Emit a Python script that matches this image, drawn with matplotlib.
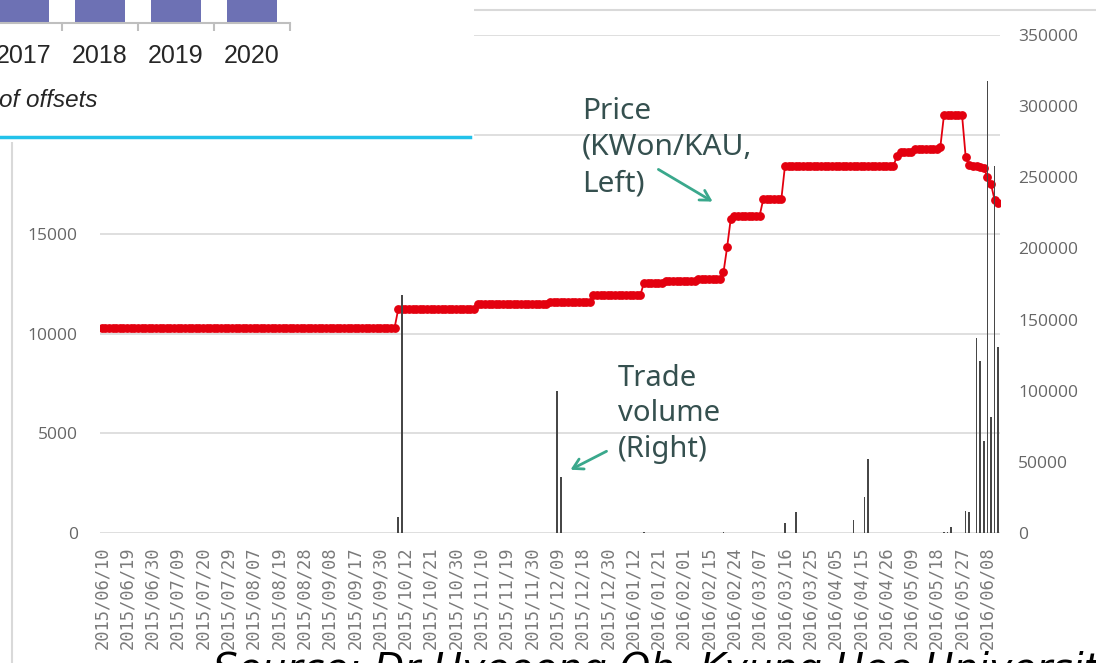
import numpy as np
import matplotlib
matplotlib.use("Agg")
import matplotlib.pyplot as plt
from matplotlib.patches import Rectangle, FancyArrowPatch
from matplotlib.lines import Line2D

W, H = 1096, 663

# trading-day axis: one label every 7 trading days
date_labels = ["2015/06/10", "2015/06/19", "2015/06/30", "2015/07/09", "2015/07/20",
               "2015/07/29", "2015/08/07", "2015/08/19", "2015/08/28", "2015/09/08",
               "2015/09/17", "2015/09/30", "2015/10/12", "2015/10/21", "2015/10/30",
               "2015/11/10", "2015/11/19", "2015/11/30", "2015/12/09", "2015/12/18",
               "2015/12/30", "2016/01/12", "2016/01/21", "2016/02/01", "2016/02/15",
               "2016/02/24", "2016/03/07", "2016/03/16", "2016/03/25", "2016/04/05",
               "2016/04/15", "2016/04/26", "2016/05/09", "2016/05/18", "2016/05/27",
               "2016/06/08"]
label_step = 7
n_days = 249

# price (left axis), as runs of unchanged closing price
price_levels = [10300, 11230, 11500, 11600, 11950, 12565, 12665, 12750, 13090, 14340,
                15760, 15930, 16750, 18420, 18925, 19140, 19260, 19390, 20980, 18890,
                18450, 18420, 18400, 18350, 18300, 17890, 17520, 16720, 16550]
price_run_days = [82, 22, 20, 12, 14, 6, 9, 7, 1, 1,
                  1, 8, 6, 31, 1, 4, 7, 1, 6, 1,
                  1, 1, 1, 1, 1, 1, 1, 1, 1]

# trade volume (right axis), only days with trades
volume_day = [82, 83, 126, 127, 150, 172, 189, 192, 208, 211, 212, 233, 234, 235,
              239, 240, 242, 243, 244, 245, 246, 247, 248]
volume = [11450, 167000, 99800, 39600, 400, 600, 7000, 14800, 9100, 25300, 52000,
          900, 600, 4400, 15200, 14600, 136800, 120600, 65000, 318000, 81300,
          258000, 130500]

# fragment of the neighbouring chart (top-left)
offset_years = ["2017", "2018", "2019", "2020"]
offset_counts = [60, 70, 75, 80]


def fx(px):
    return px / W


def fy(py):
    return 1 - py / H


price = np.repeat(price_levels, price_run_days)
days = np.arange(len(price))

fig = plt.figure(figsize=(W / 100, H / 100), dpi=100)
fig.patch.set_facecolor("white")

ax = fig.add_axes([fx(100), fy(533), fx(900), 498 / H])
ax.plot(days, price, "-o", color="#e3000f", lw=1.3, ms=5.3, mec="#e3000f", zorder=3)
ax.set_xlim(-0.5, n_days - 0.5)
ax.set_ylim(0, 25000)
ax.set_yticks(np.arange(0, 25001, 5000))
ax.grid(axis="y", color="#d9d9d9", lw=1.2)
ax.set_axisbelow(True)
for s in ax.spines.values():
    s.set_visible(False)
ax.set_xticks(np.arange(len(date_labels)) * label_step)
ax.set_xticklabels(date_labels, rotation=90, family="DejaVu Sans Mono",
                   fontsize=12.3, color="#7a7a7a")
ax.tick_params(axis="x", length=0, pad=10)
ax.tick_params(axis="y", length=0, pad=16, labelsize=12.5, labelcolor="#666666")
for t in ax.get_yticklabels():
    t.set_family("Open Sans")

ax2 = ax.twinx()
ax2.bar(volume_day, volume, width=0.45, color="#474747", zorder=4)
ax2.set_ylim(0, 350000)
ax2.set_yticks(np.arange(0, 350001, 50000))
for s in ax2.spines.values():
    s.set_visible(False)
ax2.tick_params(axis="y", length=0, pad=13, labelsize=12.5, labelcolor="#666666")
for t in ax2.get_yticklabels():
    t.set_family("Open Sans")

# annotations (y given for the baseline of the last line)
note_color = "#35504f"
arrow_color = "#3aa88c"
fig.text(fx(582), fy(191), "Price\n(KWon/KAU,\nLeft)", family="Noto Sans",
         fontsize=21.5, color=note_color, va="baseline", ha="left", linespacing=1.32)
fig.text(fx(618), fy(457), "Trade\nvolume\n(Right)", family="Noto Sans",
         fontsize=21, color=note_color, va="baseline", ha="left", linespacing=1.3)
fig.add_artist(FancyArrowPatch(
    (fx(656), fy(168)), (fx(715), fy(203)), transform=fig.transFigure,
    arrowstyle="->,head_length=7,head_width=4", color=arrow_color, lw=2))
fig.add_artist(FancyArrowPatch(
    (fx(609), fy(450)), (fx(568), fy(471)), transform=fig.transFigure,
    arrowstyle="->,head_length=7,head_width=4", color=arrow_color, lw=2))

# chart border (partly hidden)
fig.add_artist(Line2D([fx(12), fx(12)], [fy(142), 0], color="#d9d9d9", lw=1.5))
fig.add_artist(Line2D([fx(474), 1], [fy(10), fy(10)], color="#d9d9d9", lw=1.5))

# source line, cut off at the bottom edge
fig.text(fx(213), fy(681), "Source: Dr Hyeoong Oh, Kyung Hee University",
         fontsize=28.2, style="italic", color="black", va="baseline", ha="left")

# overlapping piece of the neighbouring chart
fig.add_artist(Rectangle((0, fy(142)), fx(474), 142 / H, transform=fig.transFigure,
                         facecolor="white", edgecolor="none", zorder=5))
axo = fig.add_axes([fx(-14), fy(23), fx(304), 23 / H])
axo.set_zorder(6)
axo.bar(np.arange(len(offset_years)), offset_counts, width=0.67, color="#6d71b4")
axo.set_xlim(-0.5, len(offset_years) - 0.5)
axo.set_ylim(0, 5)
axo.patch.set_alpha(0)
for k in ["top", "left", "right"]:
    axo.spines[k].set_visible(False)
axo.spines["bottom"].set_color("#bfbfbf")
axo.spines["bottom"].set_linewidth(1.5)
axo.set_yticks([])
axo.set_xticks(np.arange(len(offset_years) + 1) - 0.5)
axo.set_xticklabels([])
axo.tick_params(axis="x", which="major", length=6, width=1.5, color="#bfbfbf")
axo.set_xticks(np.arange(len(offset_years)), minor=True)
axo.set_xticklabels(offset_years, minor=True, family="Liberation Sans", fontsize=18,
                    color="#262626")
axo.tick_params(axis="x", which="minor", length=0, pad=15)
fig.text(fx(-1), fy(107), "of offsets", family="Liberation Sans", style="italic",
         fontsize=17.5, color="#262626", va="baseline", ha="left", zorder=7)
fig.add_artist(Line2D([0, fx(470)], [fy(137), fy(137)], color="#22c2ea", lw=2.5,
                      zorder=7))

fig.savefig("out.png", dpi=100, facecolor="white")
